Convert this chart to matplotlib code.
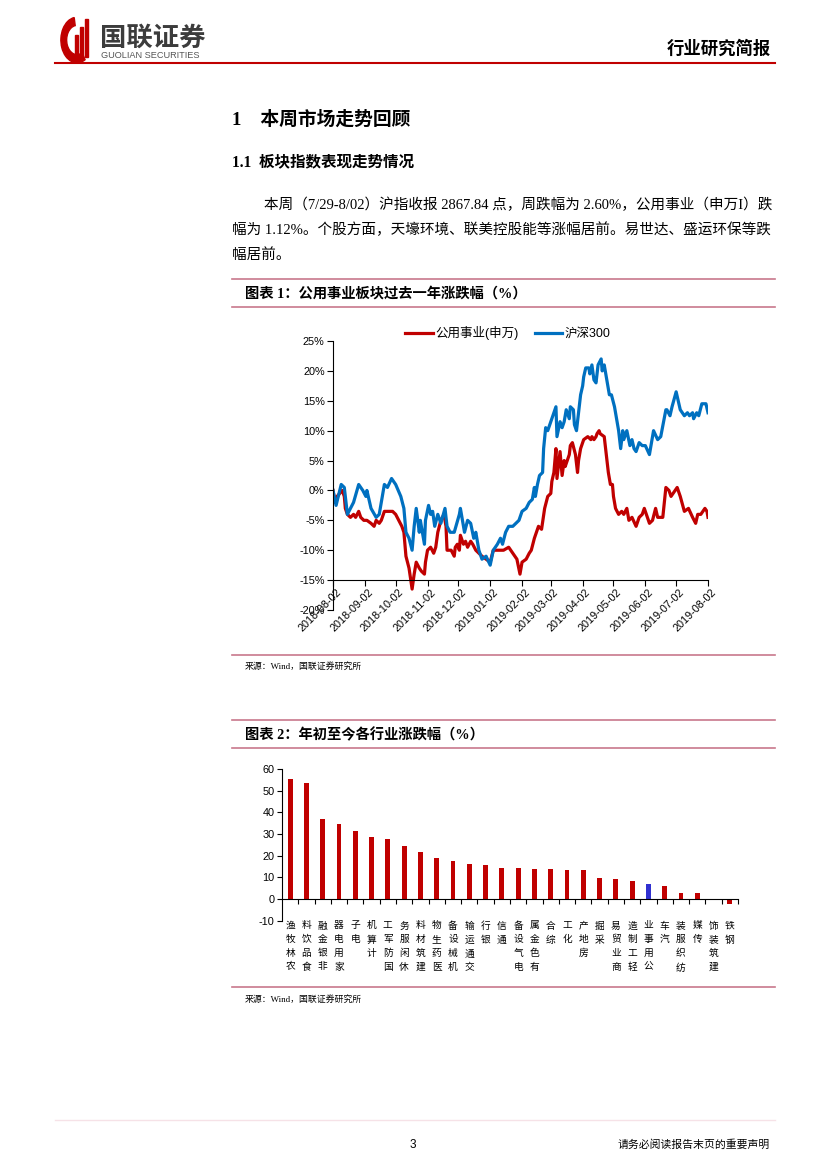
import numpy as np
import pandas as pd
import matplotlib
matplotlib.use("Agg")
import matplotlib.pyplot as plt
from matplotlib.patches import Wedge, Rectangle
from matplotlib.lines import Line2D
from matplotlib.transforms import blended_transform_factory

plt.rcParams['font.family'] = ['Liberation Sans', 'Noto Sans CJK SC', 'DejaVu Sans']
plt.rcParams['axes.unicode_minus'] = False

# --- data: chart 1 (days since 2018-08-02, % change) ---
hs300_days = [0, 3, 8, 11, 14, 17, 20, 25, 29, 32, 33, 37, 42, 45, 46, 50, 53, 57, 61, 66,
              69, 71, 74, 77, 79, 81, 84, 85, 89, 90, 93, 95, 97, 99, 102, 105, 109, 111, 114, 118,
              123, 124, 126, 128, 131, 134, 137, 139, 141, 142, 145, 149, 153, 156, 160, 163, 165, 168, 171, 175,
              178, 181, 184, 188, 191, 194, 196, 197, 199, 201, 204, 205, 207, 209, 212, 215, 217, 218, 221, 223,
              225, 227, 230, 231, 234, 235, 237, 239, 241, 243, 244, 246, 249, 250, 252, 254, 256, 258, 261, 262,
              264, 267, 269, 271, 274, 276, 278, 280, 282, 283, 286, 289, 291, 293, 295, 298, 301, 304, 308, 309,
              312, 316, 319, 324, 325, 328, 330, 334, 336, 338, 342, 345, 347, 350, 351, 354, 356, 359, 363, 365]
hs300_vals = [0, -2.5, 1, 0.5, -4, -3, -2, 1, 0, -1, 0, -3, -4.5, -4, -3, 1, 0.5, 2, 1, -1,
              -3, -7, -8, -10, -6, -3, -7, -5, -9, -5, -2.5, -4, -3.5, -6, -4, -5.5, -3, -6, -7, -7,
              -4, -3, -5, -7, -5, -5.5, -8, -7, -9, -10, -11.5, -11, -12.5, -10, -9, -8, -9, -7, -6, -6,
              -5.5, -5, -3.5, -3, -2, -1.5, 0.5, -1, 1, 2.5, 3, 7, 10.5, 10, 11.5, 13, 14, 9, 11.5, 10.5,
              11.5, 13.5, 12, 14, 13.5, 11, 10, 13, 16, 17.5, 19, 20.5, 20.5, 19.5, 21, 18.5, 18, 21, 22, 20,
              21, 18, 16, 16, 14, 12, 10, 7, 10, 8.5, 10, 7.5, 8.5, 7, 6.5, 8, 7.5, 7.5, 6, 7,
              10, 8.5, 9, 13.5, 13.5, 12.5, 14, 16.5, 15, 13.5, 12.5, 13, 12.5, 13, 12, 13, 12.5, 14.5, 14.5, 13]

util_days = [0, 2, 4, 9, 11, 12, 14, 17, 20, 22, 25, 27, 30, 33, 37, 40, 42, 45, 47, 50,
             53, 58, 61, 64, 67, 69, 71, 74, 77, 79, 80, 81, 84, 86, 89, 90, 92, 95, 98, 100,
             102, 105, 108, 110, 111, 115, 118, 119, 121, 123, 124, 127, 129, 131, 134, 136, 139, 142, 145, 149,
             153, 156, 160, 163, 166, 171, 175, 179, 182, 184, 188, 191, 193, 196, 198, 200, 203, 206, 209, 212,
             213, 215, 217, 218, 221, 223, 225, 226, 230, 231, 233, 236, 238, 239, 241, 244, 248, 251, 252, 254,
             256, 257, 259, 260, 264, 266, 268, 270, 272, 273, 275, 278, 281, 283, 286, 288, 291, 295, 298, 301,
             303, 305, 308, 311, 314, 316, 321, 324, 327, 329, 335, 338, 342, 346, 350, 353, 355, 358, 362, 364, 365]
util_vals = [0, -2, -1, 0, -1, -3, -4, -4.5, -4, -4.5, -3.5, -4.5, -5, -5, -5.5, -6, -5, -5.5, -5, -3.5,
             -3.5, -3.5, -4, -5, -6, -7, -11, -13, -16.5, -14, -13, -12, -13, -13.5, -14, -12, -10, -9.5, -10.5, -9.5,
             -7, -5, -4, -6, -10, -10, -11, -9.5, -9, -10, -7.5, -9, -8.5, -9.5, -8.5, -9, -10, -10.5, -11, -11.5,
             -12, -10, -10, -10, -10, -9.5, -10.5, -11.5, -14, -12, -11.5, -10.5, -10, -8, -7, -6, -6.5, -3, -1, -0.5,
             1.5, 3, 7, 2, 6.5, 2.5, 5, 4, 6, 7.5, 8, 6, 3, 5, 7, 8.5, 9, 8.5, 9, 8.5,
             9, 9.5, 10, 9.5, 9, 6, 3, 1, 1, -1, -3, -4, -3.5, -4, -3, -5, -4.5, -6, -4.5, -4,
             -3, -4, -5.5, -5, -3, -4.5, -4.5, 0.5, 0, -1, 0.5, -1, -3.5, -3, -4.5, -5.5, -4, -4, -3, -3.5, -4.5]

# --- data: chart 2 (YTD % change by industry) ---
industries = ['农林牧渔', '食品饮料', '非银金融', '家用电器', '电子', '计算机', '国防军工', '休闲服务',
              '建筑材料', '医药生物', '机械设备', '交通运输', '银行', '通信', '电气设备', '有色金属',
              '综合', '化工', '房地产', '采掘', '商业贸易', '轻工制造', '公用事业', '汽车',
              '纺织服装', '传媒', '建筑装饰', '钢铁']
ytd_change = [55.5, 53.7, 37.0, 34.5, 31.5, 28.5, 27.8, 24.5, 21.7, 19.0, 17.5, 16.2, 15.5, 14.5,
              14.5, 14.0, 13.7, 13.6, 13.3, 9.5, 9.3, 8.5, 7.0, 6.0, 3.0, 3.0, -0.5, -2.5]
highlight = '公用事业'

RED = '#C00000'
BLUE = '#0070C0'
RULE = '#C8788C'
CJK_SERIF = ['Liberation Serif', 'Noto Sans CJK SC']
CJK_SANS = ['Liberation Sans', 'Noto Sans CJK SC']

W, H = 827, 1169
fig = plt.figure(figsize=(W / 100, H / 100), dpi=100)


def fx(px):
    return px / W


def fy(py):
    return 1 - py / H


def hline(py, x0=232, x1=775, color=RULE, lw=1.2):
    fig.add_artist(Line2D([fx(x0), fx(x1)], [fy(py), fy(py)], color=color, lw=lw))


# --- header ---
fig.add_artist(Wedge((fx(77), fy(40)), 0.0195, 100, 300, width=0.007, color=RED,
                     transform=fig.transFigure))
for bx, bh in [(75, 22), (80, 30), (85, 38)]:
    fig.add_artist(Rectangle((fx(bx), fy(57)), fx(3), bh / H, color=RED,
                             transform=fig.transFigure))
fig.text(fx(100), fy(38), '国联证券', fontsize=19, fontweight='bold', color='#3c3c3c',
         family=CJK_SANS, va='center', ha='left')
fig.text(fx(101), fy(55), 'GUOLIAN SECURITIES', fontsize=6.6, color='#555555', va='center')
fig.text(fx(771), fy(48), '行业研究简报', fontsize=12.5, fontweight='bold', family=CJK_SANS,
         ha='right', va='center')
hline(63, 55, 775, color=RED, lw=1.5)

# --- headings and paragraph ---
fig.text(fx(232), fy(120), '1    本周市场走势回顾', fontsize=13.5, fontweight='bold',
         family=CJK_SERIF, va='center')
fig.text(fx(232), fy(162), '1.1  板块指数表现走势情况', fontsize=11.2, fontweight='bold',
         family=CJK_SERIF, va='center')
para = [(264, 205, '本周（7/29-8/02）沪指收报 2867.84 点，周跌幅为 2.60%，公用事业（申万I）跌'),
        (232, 230, '幅为 1.12%。个股方面，天壕环境、联美控股能等涨幅居前。易世达、盛运环保等跌'),
        (232, 255, '幅居前。')]
for px, py, s in para:
    fig.text(fx(px), fy(py), s, fontsize=10.5, family=CJK_SERIF, va='center')

# --- chart 1 frame ---
hline(279)
fig.text(fx(245), fy(294), '图表 1：公用事业板块过去一年涨跌幅（%）', fontsize=10.3,
         fontweight='bold', family=CJK_SERIF, va='center')
hline(307)
hline(655)
fig.text(fx(245), fy(666), '来源：Wind，国联证券研究所', fontsize=6.4, family=CJK_SERIF,
         va='center')

start = pd.Timestamp('2018-08-02')
hs_dates = start + pd.to_timedelta(hs300_days, unit='D')
ut_dates = start + pd.to_timedelta(util_days, unit='D')

ax1 = fig.add_axes([fx(333), fy(610), fx(708) - fx(333), fy(341) - fy(610)])
ax1.plot(ut_dates, util_vals, color=RED, lw=2.3, label='公用事业(申万)')
ax1.plot(hs_dates, hs300_vals, color=BLUE, lw=2.3, label='沪深300')
ax1.set_xlim(start, pd.Timestamp('2019-08-02'))
ax1.set_ylim(-20, 25)
ax1.set_yticks(np.arange(-20, 26, 5))
ax1.set_yticklabels([f'{v}%' for v in range(-20, 26, 5)])
month_ticks = pd.date_range('2018-08-02', '2019-08-02', freq='MS') + pd.Timedelta(days=1)
month_ticks = [start] + list(month_ticks[month_ticks > start])
ax1.set_xticks(month_ticks)
ax1.set_xticklabels([])
ax1.spines['bottom'].set_position(('data', -15))
ax1.spines['top'].set_visible(False)
ax1.spines['right'].set_visible(False)
ax1.tick_params(axis='both', labelsize=7.8, length=4, width=0.8, direction='out', pad=2)
for d in month_ticks:
    ax1.annotate(d.strftime('%Y-%m-%d'), xy=(d, -15), xytext=(2, -5),
                 textcoords='offset points', rotation=45, rotation_mode='anchor',
                 ha='right', va='top', fontsize=7.8, annotation_clip=False)
ax1.legend(loc='center', bbox_to_anchor=(fx(508), fy(333)), bbox_transform=fig.transFigure,
           ncol=2, frameon=False, handlelength=2.2, handletextpad=0.2,
           columnspacing=1.3, prop={'family': CJK_SANS, 'size': 9})

# --- chart 2 frame ---
hline(720)
fig.text(fx(245), fy(735), '图表 2：年初至今各行业涨跌幅（%）', fontsize=10.3,
         fontweight='bold', family=CJK_SERIF, va='center')
hline(748)
hline(987)
fig.text(fx(245), fy(999), '来源：Wind，国联证券研究所', fontsize=6.4, family=CJK_SERIF,
         va='center')

ax2 = fig.add_axes([fx(282), fy(920.7), fx(738) - fx(282), fy(769) - fy(920.7)])
xpos = np.arange(len(industries))
colors = ['#3030D0' if n == highlight else RED for n in industries]
ax2.bar(xpos, ytd_change, width=0.3, color=colors)
ax2.set_xlim(-0.5, len(industries) - 0.5)
ax2.set_ylim(-10, 60)
ax2.set_yticks(np.arange(-10, 61, 10))
ax2.set_xticks(np.arange(0.5, len(industries), 1))
ax2.set_xticklabels([])
ax2.spines['bottom'].set_position(('data', 0))
ax2.spines['top'].set_visible(False)
ax2.spines['right'].set_visible(False)
ax2.tick_params(axis='both', labelsize=7.8, length=3.5, width=0.8, direction='out', pad=2)
trans = blended_transform_factory(ax2.transData, ax2.transAxes)
for i, name in enumerate(industries):
    ax2.text(i, -0.005, '\n'.join(reversed(name)), transform=trans, ha='center', va='top',
             fontsize=7, family=CJK_SERIF, linespacing=1.65)

# --- footer ---
hline(1120, 55, 775, color='#F6E2E7', lw=1.0)
fig.text(fx(413), fy(1145), '3', fontsize=8.5, ha='center', va='center')
fig.text(fx(770), fy(1145), '请务必阅读报告末页的重要声明', fontsize=7.8, family=CJK_SERIF,
         ha='right', va='center')

fig.savefig('out.png', dpi=100)
